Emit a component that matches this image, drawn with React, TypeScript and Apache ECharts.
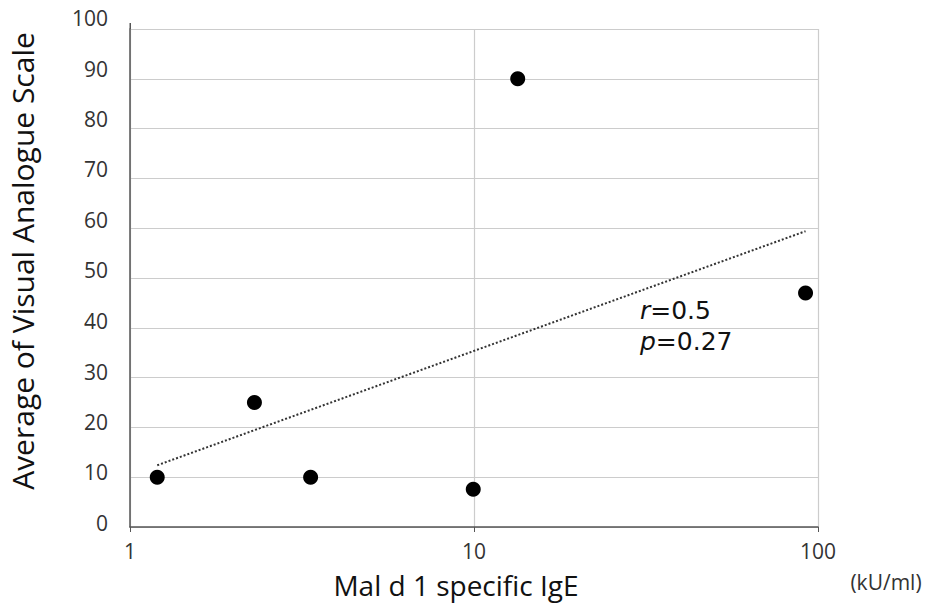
import React, { useEffect, useRef } from "react";
import * as echarts from "echarts";

const igeValues = [1.2, 2.3, 3.35, 9.95, 13.4, 92];
const vasValues = [10, 25, 10, 7.6, 90, 47];
const trendX = [1.2, 92];
const trendY = [12.4, 59.4];
const yTicks = [0, 10, 20, 30, 40, 50, 60, 70, 80, 90, 100];
const xTitle = "Mal d 1 specific IgE";
const yTitle = "Average of Visual Analogue Scale";
const unitText = "(kU/ml)";

const FONT = "'Open Sans', 'Noto Sans', sans-serif";
const STAT_FONT = "'DejaVu Sans', sans-serif";

// small upward shift of y labels relative to their gridlines, as in the reference
const yRich: Record<string, any> = {};
yTicks.forEach((v) => {
  const shift = Math.round(4 + 0.07 * v);
  yRich["t" + v] = {
    fontSize: 21,
    color: "#333",
    fontFamily: FONT,
    padding: [0, 0, shift * 2, 0],
  };
});

const statRich = {
  i: { fontStyle: "italic", fontSize: 25, lineHeight: 28, fill: "#111", fontFamily: STAT_FONT },
  n: { fontSize: 25, lineHeight: 28, fill: "#111", fontFamily: STAT_FONT },
};

export default function App() {
  const ref = useRef<HTMLDivElement>(null);
  useEffect(() => {
    if (!ref.current) return;
    const chart = echarts.init(ref.current, undefined, { renderer: "svg" });
    chart.setOption({
      animation: false,
      backgroundColor: "#ffffff",
      grid: { left: 130, right: 110, top: 29, bottom: 85, outerBoundsMode: "none", containLabel: false },
      xAxis: {
        type: "log",
        logBase: 10,
        min: 1,
        max: 100,
        axisLine: { show: true, lineStyle: { color: "#555", width: 1.5 } },
        axisTick: { show: true, length: 5, lineStyle: { color: "#555" } },
        minorTick: { show: false },
        axisLabel: { fontSize: 21, color: "#333", margin: 13, fontFamily: FONT },
        splitLine: { show: true, lineStyle: { color: "#cccccc", width: 1.2 } },
      },
      yAxis: {
        type: "value",
        min: 0,
        max: 100,
        interval: 10,
        axisLine: { show: true, lineStyle: { color: "#555", width: 1.5 } },
        axisTick: { show: false },
        axisLabel: {
          margin: 22,
          formatter: (v: number) => (yTicks.includes(v) ? `{t${v}|${v}}` : ""),
          rich: yRich,
        },
        splitLine: { show: true, lineStyle: { color: "#cccccc", width: 1.2 } },
      },
      graphic: [
        {
          type: "rect",
          shape: { x: 818, y: 29, width: 1, height: 498 },
          style: { fill: "#cccccc" },
        },
        {
          type: "rect",
          shape: { x: 129.5, y: 23, width: 1.5, height: 6 },
          style: { fill: "#555" },
        },
        {
          type: "text",
          x: 456,
          y: 585,
          style: { text: xTitle, fontSize: 28, fill: "#111", fontFamily: FONT, align: "center", verticalAlign: "middle" },
        },
        {
          type: "text",
          x: 22,
          y: 261,
          rotation: Math.PI / 2,
          style: { text: yTitle, fontSize: 30, fill: "#111", fontFamily: FONT, align: "center", verticalAlign: "middle" },
        },
        {
          type: "text",
          x: 886,
          y: 582,
          style: { text: unitText, fontSize: 21, fill: "#333", fontFamily: FONT, align: "center", verticalAlign: "middle" },
        },
        {
          type: "text",
          x: 640,
          y: 310,
          style: { text: "{i|r}{n|=0.5}", verticalAlign: "middle", rich: statRich },
        },
        {
          type: "text",
          x: 640,
          y: 341,
          style: { text: "{i|p}{n|=0.27}", verticalAlign: "middle", rich: statRich },
        },
      ],
      series: [
        {
          type: "line",
          data: trendX.map((x, i) => [x, trendY[i]]),
          symbol: "none",
          lineStyle: { type: [2, 2], color: "#333", width: 2 },
          z: 2,
        },
        {
          type: "scatter",
          data: igeValues.map((x, i) => [x, vasValues[i]]),
          symbol: "circle",
          symbolSize: 15,
          itemStyle: { color: "#000", opacity: 1 },
          z: 3,
        },
      ],
    });
    return () => chart.dispose();
  }, []);
  return <div ref={ref} style={{ width: 928, height: 612, position: "absolute", left: 0, top: 0 }} />;
}
